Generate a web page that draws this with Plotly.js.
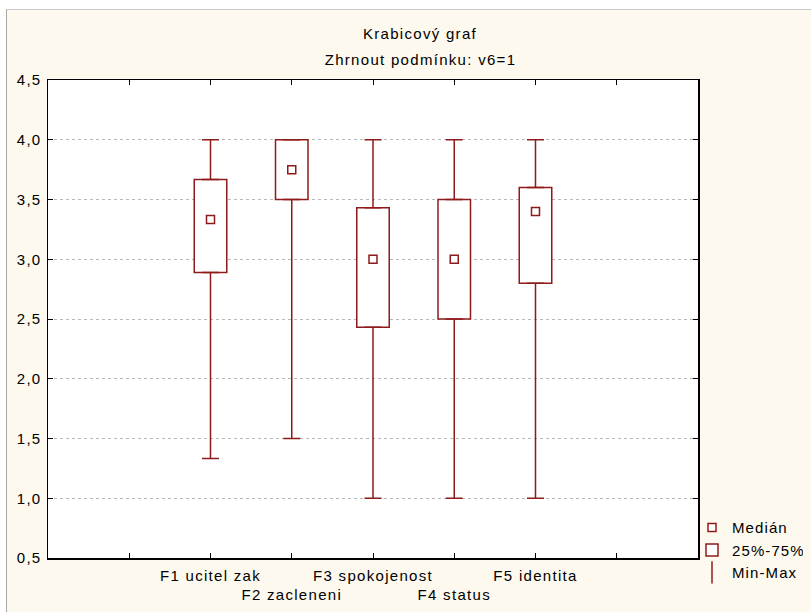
<!DOCTYPE html>
<html>
<head>
<meta charset="utf-8">
<script src="https://cdn.plot.ly/plotly-3.0.1.min.js"></script>
<style>
  html, body { margin: 0; padding: 0; background: #ffffff; width: 811px; height: 612px; overflow: hidden; }
  #frame { position: absolute; left: 6px; top: 9px; width: 805px; height: 603px;
           border-top: 1px solid #c8c8c8; border-left: 1px solid #a8a8a8; box-sizing: border-box; }
  #chart { position: absolute; left: 7px; top: 10px; width: 840px; height: 602px; }
  #chart text { letter-spacing: 1.3px; }
  #chart .legend text { letter-spacing: 1.1px; }
</style>
</head>
<body>
<div id="frame"></div>
<div id="chart"></div>
<script>
// ---- data ----
const categories = ['F1 ucitel zak', 'F2 zacleneni', 'F3 spokojenost', 'F4 status', 'F5 identita'];
const minVals    = [1.333, 1.5, 1.0, 1.0, 1.0];
const q1Vals     = [2.889, 3.5, 2.43, 2.5, 2.8];
const medianVals = [3.333, 3.75, 3.0, 3.0, 3.4];
const q3Vals     = [3.667, 4.0, 3.43, 3.5, 3.6];
const maxVals    = [4.0, 4.0, 4.0, 4.0, 4.0];
const yTickVals  = [0.5, 1.0, 1.5, 2.0, 2.5, 3.0, 3.5, 4.0, 4.5];
const legendNames = ['Medián', '25%-75%', 'Min-Max'];
const titleText = 'Krabicový graf';
const subtitleText = 'Zhrnout podmínku: v6=1';

// ---- derived ----
const xPos = categories.map((c, i) => i);
const boxHeights = q3Vals.map((q, i) => q - q1Vals[i]);
const upWhisker = maxVals.map((m, i) => m - q3Vals[i]);
const downWhisker = q1Vals.map((q, i) => q - minVals[i]);
const zeros = categories.map(() => 0);
const xTickVals = [-2, -1, 0, 1, 2, 3, 4, 5, 6];
const xTickText = xTickVals.map(v => {
  if (v < 0 || v >= categories.length) return '';
  return (v % 2 === 1 ? '<br>' : '') + categories[v];
});

const RED = '#8e1b1b';
const FONT = 'Liberation Sans, Arial, sans-serif';

const traces = [
  { type: 'bar', name: legendNames[1], x: xPos, base: q1Vals, y: boxHeights,
    width: 0.4, marker: { color: '#ffffff', line: { color: RED, width: 1.5 } }, legendrank: 2 },
  { type: 'scatter', mode: 'markers', x: xPos, y: q3Vals, showlegend: false,
    marker: { size: 1, color: 'rgba(0,0,0,0)' },
    error_y: { type: 'data', symmetric: false, array: upWhisker, arrayminus: zeros, width: 8.5, thickness: 1.5, color: RED } },
  { type: 'scatter', mode: 'markers', x: xPos, y: q1Vals, showlegend: false,
    marker: { size: 1, color: 'rgba(0,0,0,0)' },
    error_y: { type: 'data', symmetric: false, array: zeros, arrayminus: downWhisker, width: 8.5, thickness: 1.5, color: RED } },
  { type: 'scatter', mode: 'markers', name: legendNames[0], x: xPos, y: medianVals,
    marker: { symbol: 'square', size: 8, color: '#ffffff', line: { color: RED, width: 1.5 } }, legendrank: 1 },
  { type: 'scatter', mode: 'markers', name: legendNames[2], x: [null], y: [null],
    marker: { symbol: 'line-ns-open', size: 16, color: RED, line: { color: RED, width: 1.5 } }, legendrank: 3 }
];

const layout = {
  width: 840, height: 602,
  paper_bgcolor: '#fdf9ee', plot_bgcolor: '#ffffff',
  margin: { l: 41, r: 149, t: 70, b: 54 },
  separators: ', ',
  font: { family: FONT, size: 15, color: '#000' },
  title: { text: titleText, x: 413 / 840, xref: 'container', xanchor: 'center',
           y: 1 - 24 / 602, yref: 'container', yanchor: 'middle', font: { family: FONT, size: 15, color: '#000' } },
  annotations: [
    { text: subtitleText, showarrow: false, xref: 'paper', yref: 'paper',
      x: (420 - 48) / 650, y: 1 + (80 - 59) / 478, xanchor: 'center', yanchor: 'middle',
      font: { family: FONT, size: 15, color: '#000' } }
  ],
  showlegend: true,
  legend: { xref: 'paper', yref: 'paper', x: (685 - 41) / 650, y: 0.098, xanchor: 'left', yanchor: 'top',
            bgcolor: 'rgba(0,0,0,0)', font: { family: FONT, size: 15 }, traceorder: 'normal', itemwidth: 30 },
  xaxis: { range: [-2, 6], tickvals: xTickVals, ticktext: xTickText, tickangle: 0,
    showgrid: false, zeroline: false, showline: true, linecolor: '#000', linewidth: 1.5, mirror: 'allticks',
    ticks: 'inside', ticklen: 5, tickcolor: '#000', tickwidth: 1, ticklabelstandoff: 3,
    tickfont: { family: FONT, size: 15, color: '#000' } },
  yaxis: { range: [0.5, 4.5], tickvals: yTickVals, tickformat: '.1f',
    showgrid: true, gridcolor: '#b8b8b8', griddash: 'dot', gridwidth: 1, zeroline: false,
    showline: true, linecolor: '#000', linewidth: 1.5, mirror: 'allticks',
    ticks: 'inside', ticklen: 5, tickcolor: '#000', tickwidth: 1, ticklabelstandoff: 2,
    tickfont: { family: FONT, size: 15, color: '#000' } },
  bargap: 0
};

Plotly.newPlot('chart', traces, layout, { staticPlot: true, displayModeBar: false });
</script>
</body>
</html>
